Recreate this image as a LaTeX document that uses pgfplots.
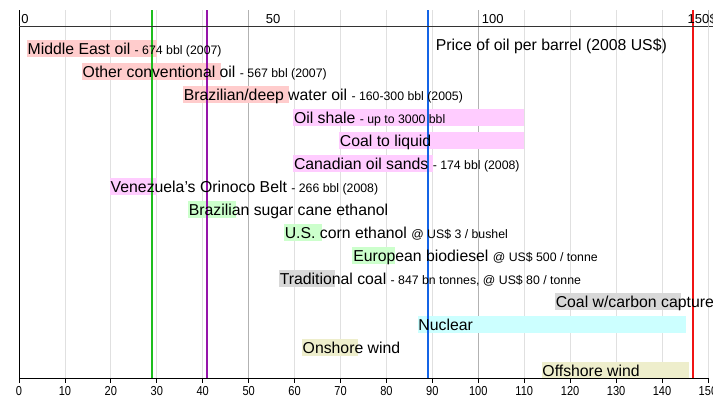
\documentclass[border=0pt]{standalone}
\usepackage{pgfplots}
\pgfplotsset{compat=1.18}
\usepackage{fontspec}
\setmainfont{Liberation Sans}
\newfontfamily\narrowsans[FakeStretch=0.85]{Liberation Sans}
\newcommand{\Lg}{\fontsize{15.8}{18}\selectfont}
\newcommand{\Sm}{\fontsize{12.3}{14}\selectfont}

\definecolor{oilA}{RGB}{255,204,204}
\definecolor{oilB}{RGB}{255,204,255}
\definecolor{bio}{RGB}{204,255,204}
\definecolor{coal}{RGB}{216,216,216}
\definecolor{nuc}{RGB}{204,255,255}
\definecolor{wind}{RGB}{238,238,204}
\definecolor{priceGreen}{RGB}{30,190,30}
\definecolor{pricePurple}{RGB}{150,20,170}
\definecolor{priceBlue}{RGB}{20,100,230}
\definecolor{priceRed}{RGB}{240,20,20}

\begin{document}
\begin{tikzpicture}[lab/.style={anchor=base west, inner sep=0pt, xshift=0.6pt}]
\begin{axis}[
    scale only axis,
    width=689pt, height=368pt,
    xmin=0, xmax=150,
    ymin=-0.665, ymax=15.335,
    y dir=reverse,
    clip=false,
    axis x line*=bottom,
    axis y line*=left,
    axis line style={black, line width=0.9pt},
    xtick={0,10,...,150},
    ytick=\empty,
    xmajorgrids,
    grid style={black!12, line width=0.8pt},
    extra x ticks={50,100},
    extra x tick labels={},
    extra x tick style={major grid style={black!30, line width=0.8pt}},
    tick align=outside,
    major tick length=5pt,
    xtick style={black, line width=0.8pt},
    /pgf/number format/assume math mode=true,
    x tick label style={font={\narrowsans\fontsize{13}{13}\selectfont}},
]
% bars: (lo,row-0.36) (hi,row-0.36) (hi,row+0.36) (lo,row+0.36)
\addplot[fill=oilA, draw=none] coordinates {(1.7,0.64) (30.0,0.64) (30.0,1.36) (1.7,1.36)};
\addplot[fill=oilA, draw=none] coordinates {(13.7,1.64) (44.0,1.64) (44.0,2.36) (13.7,2.36)};
\addplot[fill=oilA, draw=none] coordinates {(35.7,2.64) (58.8,2.64) (58.8,3.36) (35.7,3.36)};
\addplot[fill=oilB, draw=none] coordinates {(59.7,3.64) (110.0,3.64) (110.0,4.36) (59.7,4.36)};
\addplot[fill=oilB, draw=none] coordinates {(69.7,4.64) (110.0,4.64) (110.0,5.36) (69.7,5.36)};
\addplot[fill=oilB, draw=none] coordinates {(59.7,5.64) (90.1,5.64) (90.1,6.36) (59.7,6.36)};
\addplot[fill=oilB, draw=none] coordinates {(19.8,6.64) (30.0,6.64) (30.0,7.36) (19.8,7.36)};
\addplot[fill=bio, draw=none] coordinates {(36.8,7.64) (47.2,7.64) (47.2,8.36) (36.8,8.36)};
\addplot[fill=bio, draw=none] coordinates {(57.7,8.64) (66.0,8.64) (66.0,9.36) (57.7,9.36)};
\addplot[fill=bio, draw=none] coordinates {(72.6,9.64) (81.9,9.64) (81.9,10.36) (72.6,10.36)};
\addplot[fill=coal, draw=none] coordinates {(56.6,10.64) (68.8,10.64) (68.8,11.36) (56.6,11.36)};
\addplot[fill=coal, draw=none] coordinates {(116.7,11.64) (144.1,11.64) (144.1,12.36) (116.7,12.36)};
\addplot[fill=nuc, draw=none] coordinates {(86.8,12.64) (145.2,12.64) (145.2,13.36) (86.8,13.36)};
\addplot[fill=wind, draw=none] coordinates {(61.6,13.64) (73.8,13.64) (73.8,14.36) (61.6,14.36)};
\addplot[fill=wind, draw=none] coordinates {(113.8,14.64) (145.9,14.64) (145.9,15.33) (113.8,15.33)};

% reference price lines
\addplot[priceGreen, line width=1.6pt] coordinates {(28.9,-0.665) (28.9,15.335)};
\addplot[pricePurple, line width=1.6pt] coordinates {(40.9,-0.665) (40.9,15.335)};
\addplot[priceBlue, line width=1.6pt] coordinates {(89.0,-0.665) (89.0,15.335)};
\addplot[priceRed, line width=1.6pt] coordinates {(146.8,-0.665) (146.8,15.335)};

% top scale
\draw[black!80, line width=1pt] (axis cs:0,0.074) -- (axis cs:151.2,0.074);
\draw[black!30, line width=0.8pt] (axis cs:150,-0.665) -- (axis cs:150,0.074);
\node[lab, font={\fontsize{13}{13}\selectfont}] at (axis cs:0.33,-0.057) {0};
\node[lab, font={\fontsize{13}{13}\selectfont}] at (axis cs:53.56,-0.057) {50};
\node[lab, font={\fontsize{13}{13}\selectfont}] at (axis cs:100.6,-0.057) {100};
\node[lab, font={\fontsize{13}{13}\selectfont}] at (axis cs:145.4,-0.057) {150};
\node[lab, font={\fontsize{13}{13}\selectfont}] at (axis cs:150.2,-0.057) {\$};
\node[lab] at (axis cs:90.6,1.096) {\Lg Price of oil per barrel (2008 US\$)};

% labels
\node[lab] at (axis cs:1.7,1.25) {\Lg Middle East oil {\Sm - 674 bbl (2007)}};
\node[lab] at (axis cs:13.7,2.25) {\Lg Other conventional oil {\Sm - 567 bbl (2007)}};
\node[lab] at (axis cs:35.7,3.25) {\Lg Brazilian/deep water oil {\Sm - 160-300 bbl (2005)}};
\node[lab] at (axis cs:59.7,4.25) {\Lg Oil shale {\Sm - up to 3000 bbl}};
\node[lab] at (axis cs:69.7,5.25) {\Lg Coal to liquid};
\node[lab] at (axis cs:59.7,6.25) {\Lg Canadian oil sands {\Sm - 174 bbl (2008)}};
\node[lab] at (axis cs:19.8,7.25) {\Lg Venezuela's Orinoco Belt {\Sm - 266 bbl (2008)}};
\node[lab] at (axis cs:36.8,8.25) {\Lg Brazilian sugar cane ethanol};
\node[lab] at (axis cs:57.7,9.25) {\Lg U.S. corn ethanol {\Sm @ US\$ 3 / bushel}};
\node[lab] at (axis cs:72.6,10.25) {\Lg European biodiesel {\Sm @ US\$ 500 / tonne}};
\node[lab] at (axis cs:56.6,11.25) {\Lg Traditional coal {\Sm - 847 bn tonnes, @ US\$ 80 / tonne}};
\node[lab] at (axis cs:116.7,12.25) {\Lg Coal w/carbon capture};
\node[lab] at (axis cs:86.8,13.25) {\Lg Nuclear};
\node[lab] at (axis cs:61.6,14.25) {\Lg Onshore wind};
\node[lab] at (axis cs:113.8,15.25) {\Lg Offshore wind};

\coordinate (TL) at (axis cs:-4.137,-1.1);
\coordinate (BR) at (axis cs:151.1,16.42);
\end{axis}
\pgfresetboundingbox
\useasboundingbox (TL) rectangle (BR);
\end{tikzpicture}
\end{document}
